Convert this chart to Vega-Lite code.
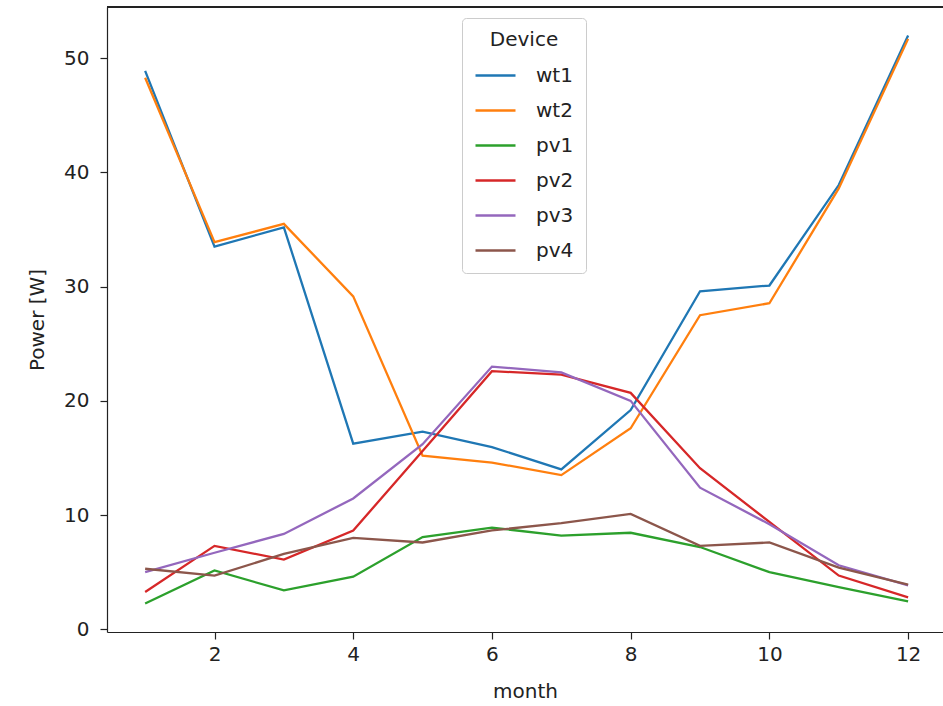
{
  "$schema": "https://vega.github.io/schema/vega-lite/v6.json",
  "autosize": "none",
  "width": 836,
  "height": 625,
  "padding": {"left": 107, "top": 7, "right": 0, "bottom": 74},
  "background": "white",
  "config": {
    "view": {"stroke": null},
    "font": "DejaVu Sans",
    "axis": {
      "labelFont": "DejaVu Sans",
      "titleFont": "DejaVu Sans",
      "labelFontSize": 20,
      "titleFontSize": 20,
      "titleFontWeight": "normal",
      "labelColor": "#222",
      "titleColor": "#222",
      "domainColor": "#222",
      "tickColor": "#222",
      "domainWidth": 1.2,
      "tickWidth": 1.2,
      "tickSize": 7,
      "grid": false
    },
    "legend": {
      "labelFont": "DejaVu Sans",
      "titleFont": "DejaVu Sans"
    }
  },
  "data": {
    "values": [
      {"month": 1, "device": "wt1", "power": 48.9},
      {"month": 2, "device": "wt1", "power": 33.5},
      {"month": 3, "device": "wt1", "power": 35.2},
      {"month": 4, "device": "wt1", "power": 16.25},
      {"month": 5, "device": "wt1", "power": 17.3},
      {"month": 6, "device": "wt1", "power": 15.95},
      {"month": 7, "device": "wt1", "power": 14.0},
      {"month": 8, "device": "wt1", "power": 19.2},
      {"month": 9, "device": "wt1", "power": 29.6},
      {"month": 10, "device": "wt1", "power": 30.1},
      {"month": 11, "device": "wt1", "power": 38.9},
      {"month": 12, "device": "wt1", "power": 52.0},
      {"month": 1, "device": "wt2", "power": 48.3},
      {"month": 2, "device": "wt2", "power": 33.9},
      {"month": 3, "device": "wt2", "power": 35.5},
      {"month": 4, "device": "wt2", "power": 29.15},
      {"month": 5, "device": "wt2", "power": 15.2},
      {"month": 6, "device": "wt2", "power": 14.6},
      {"month": 7, "device": "wt2", "power": 13.5},
      {"month": 8, "device": "wt2", "power": 17.6},
      {"month": 9, "device": "wt2", "power": 27.5},
      {"month": 10, "device": "wt2", "power": 28.55},
      {"month": 11, "device": "wt2", "power": 38.6},
      {"month": 12, "device": "wt2", "power": 51.7},
      {"month": 1, "device": "pv1", "power": 2.25},
      {"month": 2, "device": "pv1", "power": 5.15},
      {"month": 3, "device": "pv1", "power": 3.4},
      {"month": 4, "device": "pv1", "power": 4.6},
      {"month": 5, "device": "pv1", "power": 8.07},
      {"month": 6, "device": "pv1", "power": 8.9},
      {"month": 7, "device": "pv1", "power": 8.2},
      {"month": 8, "device": "pv1", "power": 8.45},
      {"month": 9, "device": "pv1", "power": 7.2},
      {"month": 10, "device": "pv1", "power": 5.0},
      {"month": 11, "device": "pv1", "power": 3.7},
      {"month": 12, "device": "pv1", "power": 2.45},
      {"month": 1, "device": "pv2", "power": 3.26},
      {"month": 2, "device": "pv2", "power": 7.3},
      {"month": 3, "device": "pv2", "power": 6.1},
      {"month": 4, "device": "pv2", "power": 8.65},
      {"month": 5, "device": "pv2", "power": 15.6},
      {"month": 6, "device": "pv2", "power": 22.6},
      {"month": 7, "device": "pv2", "power": 22.3},
      {"month": 8, "device": "pv2", "power": 20.7},
      {"month": 9, "device": "pv2", "power": 14.1},
      {"month": 10, "device": "pv2", "power": 9.4},
      {"month": 11, "device": "pv2", "power": 4.7},
      {"month": 12, "device": "pv2", "power": 2.8},
      {"month": 1, "device": "pv3", "power": 5.0},
      {"month": 2, "device": "pv3", "power": 6.7},
      {"month": 3, "device": "pv3", "power": 8.35},
      {"month": 4, "device": "pv3", "power": 11.45},
      {"month": 5, "device": "pv3", "power": 16.2},
      {"month": 6, "device": "pv3", "power": 23.0},
      {"month": 7, "device": "pv3", "power": 22.5},
      {"month": 8, "device": "pv3", "power": 20.0},
      {"month": 9, "device": "pv3", "power": 12.4},
      {"month": 10, "device": "pv3", "power": 9.2},
      {"month": 11, "device": "pv3", "power": 5.6},
      {"month": 12, "device": "pv3", "power": 3.85},
      {"month": 1, "device": "pv4", "power": 5.3},
      {"month": 2, "device": "pv4", "power": 4.7},
      {"month": 3, "device": "pv4", "power": 6.6},
      {"month": 4, "device": "pv4", "power": 8.0},
      {"month": 5, "device": "pv4", "power": 7.6},
      {"month": 6, "device": "pv4", "power": 8.65},
      {"month": 7, "device": "pv4", "power": 9.3},
      {"month": 8, "device": "pv4", "power": 10.1},
      {"month": 9, "device": "pv4", "power": 7.3},
      {"month": 10, "device": "pv4", "power": 7.6},
      {"month": 11, "device": "pv4", "power": 5.4},
      {"month": 12, "device": "pv4", "power": 3.9}
    ]
  },
  "layer": [
    {
      "mark": {"type": "line", "strokeWidth": 2.3},
      "encoding": {
        "x": {
          "field": "month", "type": "quantitative", "title": "month",
          "scale": {"domain": [0.45, 12.503], "nice": false, "zero": false},
          "axis": {"values": [2, 4, 6, 8, 10, 12], "labelPadding": 5, "titlePadding": 17}
        },
        "y": {
          "field": "power", "type": "quantitative", "title": "Power [W]",
          "scale": {"domain": [-0.24, 54.49], "nice": false, "zero": false},
          "axis": {"values": [0, 10, 20, 30, 40, 50], "labelPadding": 11, "titlePadding": 16}
        },
        "color": {
          "field": "device", "type": "nominal", "sort": ["wt1", "wt2", "pv1", "pv2", "pv3", "pv4"],
          "scale": {"domain": ["wt1", "wt2", "pv1", "pv2", "pv3", "pv4"], "range": ["#1f77b4", "#ff7f0e", "#2ca02c", "#d62728", "#9467bd", "#8c564b"]},
          "legend": {
            "title": "Device",
            "orient": "none",
            "legendX": 355,
            "legendY": 11,
            "symbolType": "stroke",
            "symbolSize": 1600,
            "symbolStrokeWidth": 2.3,
            "labelFontSize": 20,
            "titleFontSize": 20,
            "titleFontWeight": "normal",
            "titleColor": "#222",
            "labelColor": "#222",
            "titleAnchor": "middle",
            "titleAlign": "center",
            "titlePadding": 4,
            "labelOffset": 19,
            "rowPadding": 3,
            "padding": 12,
            "strokeColor": "#cccccc",
            "fillColor": "rgba(255,255,255,0.85)",
            "cornerRadius": 4
          }
        }
      }
    },
    {
      "mark": {"type": "rule", "color": "#222", "strokeWidth": 1.2},
      "encoding": {"y": {"datum": 54.49}}
    }
  ]
}
